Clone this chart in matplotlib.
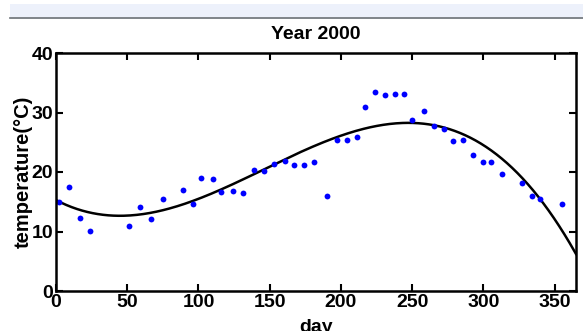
import numpy as np
import matplotlib
matplotlib.use("Agg")
import matplotlib.pyplot as plt
from matplotlib.patches import Rectangle
from matplotlib.lines import Line2D

days = [2, 9, 17, 24, 51, 59, 67, 75, 89, 96, 102, 110, 116, 124, 131,
        139, 146, 153, 161, 167, 174, 181, 190, 197, 204, 211, 217, 224,
        231, 238, 244, 250, 258, 265, 272, 279, 286, 293, 300, 305, 313,
        327, 334, 340, 355]
temps = [14.9, 17.4, 12.3, 10.1, 11.0, 14.1, 12.1, 15.5, 17.0, 14.6, 19.0,
         18.8, 16.6, 16.8, 16.5, 20.4, 20.2, 21.3, 21.8, 21.1, 21.1, 21.6,
         16.0, 25.3, 25.3, 25.9, 31.0, 33.4, 33.0, 33.1, 33.1, 28.7, 30.2,
         27.7, 27.2, 25.2, 25.3, 22.9, 21.6, 21.7, 19.7, 18.2, 16.0, 15.5,
         14.7]
xticks = [0, 50, 100, 150, 200, 250, 300, 350]
yticks = [0, 10, 20, 30, 40]

plt.rcParams['font.family'] = ['Liberation Sans', 'DejaVu Sans']
plt.rcParams['font.weight'] = 'bold'

fig = plt.figure(figsize=(5.83, 3.31), dpi=100)

# light banner strip at the top of the screenshot
fig.patches.append(Rectangle((10/583, 1-17/331), 1, 13/331, transform=fig.transFigure,
                             facecolor='#edf1fb', edgecolor='none'))
fig.lines.append(Line2D([10/583, 1], [1-17.5/331, 1-17.5/331], transform=fig.transFigure,
                        color='#6a7076', lw=1.2))

ax = fig.add_axes([56/583, 40/331, 520/583, 238/331])

# cubic trend fitted to the observations
coef = np.polyfit(days, temps, 3)
xx = np.linspace(0, 365, 400)
ax.plot(xx, np.polyval(coef, xx), color='black', lw=1.8)
ax.plot(days, temps, 'o', color='#0000ff', ms=4.2, mec='none')

ax.set_xlim(0, 365)
ax.set_ylim(0, 40)
ax.set_xticks(xticks)
ax.set_yticks(yticks)
ax.tick_params(direction='in', length=5, width=1.5, top=True, right=True,
               labelsize=14, pad=2)
for s in ax.spines.values():
    s.set_linewidth(1.8)
ax.set_title('Year 2000', fontsize=14, fontweight='bold', pad=10)
ax.set_xlabel('day', fontsize=14, fontweight='bold')
ax.set_ylabel('temperature(\u00b0C)', fontsize=14.5, fontweight='bold')
ax.xaxis.set_label_coords(0.5, -0.118)
ax.yaxis.set_label_coords(-0.044, 0.5)

fig.savefig('out.png', dpi=100)
